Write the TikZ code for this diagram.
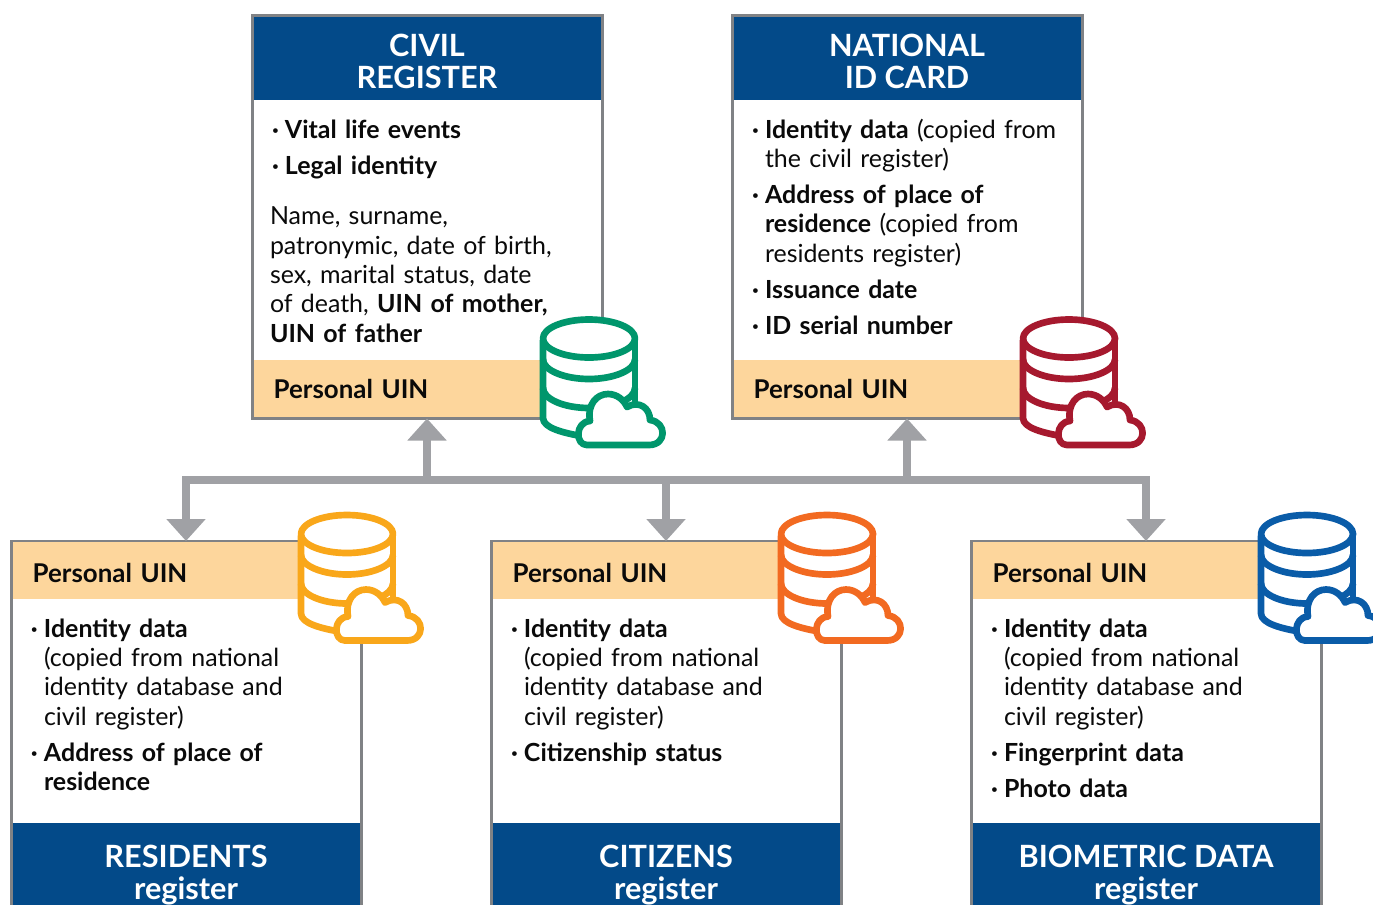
\documentclass[tikz,border=0pt]{standalone}
\usepackage{fontspec}
\setmainfont{Lato}
\usepackage{tikz}
\usetikzlibrary{positioning, arrows.meta}
\definecolor{headblue}{HTML}{034A89}
\definecolor{uinband}{HTML}{FDD69C}
\definecolor{framegray}{HTML}{808285}
\definecolor{busgray}{HTML}{A0A1A5}
\definecolor{inkblack}{HTML}{0A0A0A}
\definecolor{dbgreen}{HTML}{00966C}
\definecolor{dbred}{HTML}{A6192E}
\definecolor{dbyellow}{HTML}{F9A71A}
\definecolor{dborange}{HTML}{F26A21}
\definecolor{dbblue}{HTML}{0A5CA8}
\tikzset{regbox/.style={draw=framegray, line width=2.25pt, fill=white, minimum width=262.5pt, outer sep=0, inner sep=0}}
\tikzset{headbox/.style={fill=headblue, text=white, minimum width=260.25pt, outer sep=0, inner sep=0, align=center, font=\fontsize{23}{24}\selectfont\bfseries}}
\tikzset{uinbox/.style={fill=uinband, text=inkblack, minimum width=260.25pt, minimum height=42.75pt, outer sep=0, inner sep=0, text width=230pt, align=left, font=\fontsize{19.4}{22}\selectfont\bfseries}}
\tikzset{uinlow/.style={uinbox, execute at begin node=\rule{0pt}{17pt}}}
\tikzset{bodytext/.style={text=inkblack, outer sep=0, inner sep=0, text width=240pt, align=left, font=\fontsize{18.7}{22}\selectfont}}
\tikzset{busarr/.style={draw=busgray, line width=6pt, arrows={-Triangle[width=28.5pt,length=16.5pt]}}}
\tikzset{dbline/.style={line width=5pt, line join=round}}
\tikzset{dbcloud/.pic={
	\fill[white] (-46,0) -- (-46,78) -- (-10,96) -- (46,90) -- (46,0) -- cycle;
	\draw[dbline, draw=#1, fill=white] (0,-1.5) ellipse [x radius=46, y radius=19];
	\draw[dbline, draw=#1] (-46,0) -- (-46,78) .. controls (-46,88) and (-25,93) .. (-8,96);
	\draw[dbline, draw=#1] (46,0) -- (46,75);
	\draw[dbline, draw=#1] (-46,19.5) .. controls (-46,30) and (-25,39) .. (0,39) .. controls (25,39) and (46,30) .. (46,19.5);
	\draw[dbline, draw=#1] (-46,48) .. controls (-46,59) and (-25,68) .. (0,68) .. controls (25,68) and (46,59) .. (46,48);
	\draw[dbline, draw=#1, fill=white] (-2,105) .. controls (-14,105) and (-14,82) .. (1,81)
		.. controls (-2,64) and (8,54) .. (19,54) .. controls (28,54) and (35,60) .. (38,67)
		.. controls (50,60) and (61,68) .. (61,80) .. controls (78,82) and (78,105) .. (60,105) -- cycle;
}}
\newcommand{\itm}{\par\vspace{5pt}\hangindent=11.25pt\hangafter=1\noindent\makebox[11.25pt][l]{\hspace{1.5pt}\textbf{·}}}
\newcommand{\ttlpad}{\rule{0pt}{21.5pt}}
\begin{document}
\begin{tikzpicture}[x=0.75pt, y=-0.75pt]
	\clip (0,0) rectangle (1373,904);
	% upper boxes
	\node[regbox, minimum height=302.25pt, anchor=north west] (civil) at (252,15.5) {};
	\node[regbox, minimum height=302.25pt, anchor=north west] (natl) at (732,15.5) {};
	\node[headbox, minimum height=62.25pt, below=1.1pt of civil.north] (civilhead) {\ttlpad CIVIL\\REGISTER};
	\node[headbox, minimum height=62.25pt, below=1.1pt of natl.north] (natlhead) {\ttlpad NATIONAL\\ID CARD};
	\node[uinbox, above=1.1pt of civil.south] (civiluin) {Personal UIN};
	\node[uinbox, above=1.1pt of natl.south] (natluin) {Personal UIN};
	\node[bodytext, anchor=north west] (civiltext) at (270,102) {%
		\itm\textbf{Vital life events}
		\itm\textbf{Legal identity}
		\par\vspace{16pt}\noindent Name, surname,\newline patronymic, date of birth,\newline sex, marital status, date\newline of death, \textbf{UIN of mother,}\newline\textbf{UIN of father}};
	\node[bodytext, anchor=north west] (natltext) at (750,102) {%
		\itm\textbf{Identity data} (copied from\newline the civil register)
		\itm\textbf{Address of place of}\newline\textbf{residence} (copied from\newline residents register)
		\itm\textbf{Issuance date}
		\itm\textbf{ID serial number}};
	% lower boxes
	\node[regbox, minimum height=292.5pt, anchor=north west] (resid) at (11,541) {};
	\node[regbox, minimum height=292.5pt, anchor=north west] (citiz) at (491,541) {};
	\node[regbox, minimum height=292.5pt, anchor=north west] (biom) at (971,541) {};
	\node[uinlow, below=1.1pt of resid.north] (residuin) {Personal UIN};
	\node[uinlow, below=1.1pt of citiz.north] (citizuin) {Personal UIN};
	\node[uinlow, below=1.1pt of biom.north] (biomuin) {Personal UIN};
	\node[bodytext, anchor=north west] (residtext) at (29,601) {%
		\itm\textbf{Identity data}\newline(copied from national\newline identity database and\newline civil register)
		\itm\textbf{Address of place of}\newline\textbf{residence}\par};
	\node[bodytext, anchor=north west] (citiztext) at (509,601) {%
		\itm\textbf{Identity data}\newline(copied from national\newline identity database and\newline civil register)
		\itm\textbf{Citizenship status}};
	\node[bodytext, anchor=north west] (biomtext) at (989,601) {%
		\itm\textbf{Identity data}\newline(copied from national\newline identity database and\newline civil register)
		\itm\textbf{Fingerprint data}
		\itm\textbf{Photo data}};
	\node[headbox, minimum height=72.7pt, anchor=north] (residhead) at (186,823) {\ttlpad RESIDENTS\\register};
	\node[headbox, minimum height=72.7pt, anchor=north] (citizhead) at (666,823) {\ttlpad CITIZENS\\register};
	\node[headbox, minimum height=72.7pt, anchor=north] (biomhead) at (1146,823) {\ttlpad BIOMETRIC DATA\\register};
	% connectors
	\coordinate (busleft) at (186,480);
	\coordinate (busright) at (1146,480);
	\draw[busarr, arrows={Triangle[width=28.5pt,length=16.5pt]-Triangle[width=28.5pt,length=16.5pt]}]
		(resid.north) -- (busleft) -- (busright) -- (biom.north);
	\draw[busarr] (citiz.north |- busleft) -- (citiz.north);
	\draw[busarr] (civil.south |- busleft) -- (civil.south);
	\draw[busarr] (natl.south |- busleft) -- (natl.south);
	% database icons
	\pic at (589,340) {dbcloud=dbgreen};
	\pic at (1069,340) {dbcloud=dbred};
	\pic at (347,535.5) {dbcloud=dbyellow};
	\pic at (827,535.5) {dbcloud=dborange};
	\pic at (1307,535.5) {dbcloud=dbblue};
\end{tikzpicture}
\end{document}
